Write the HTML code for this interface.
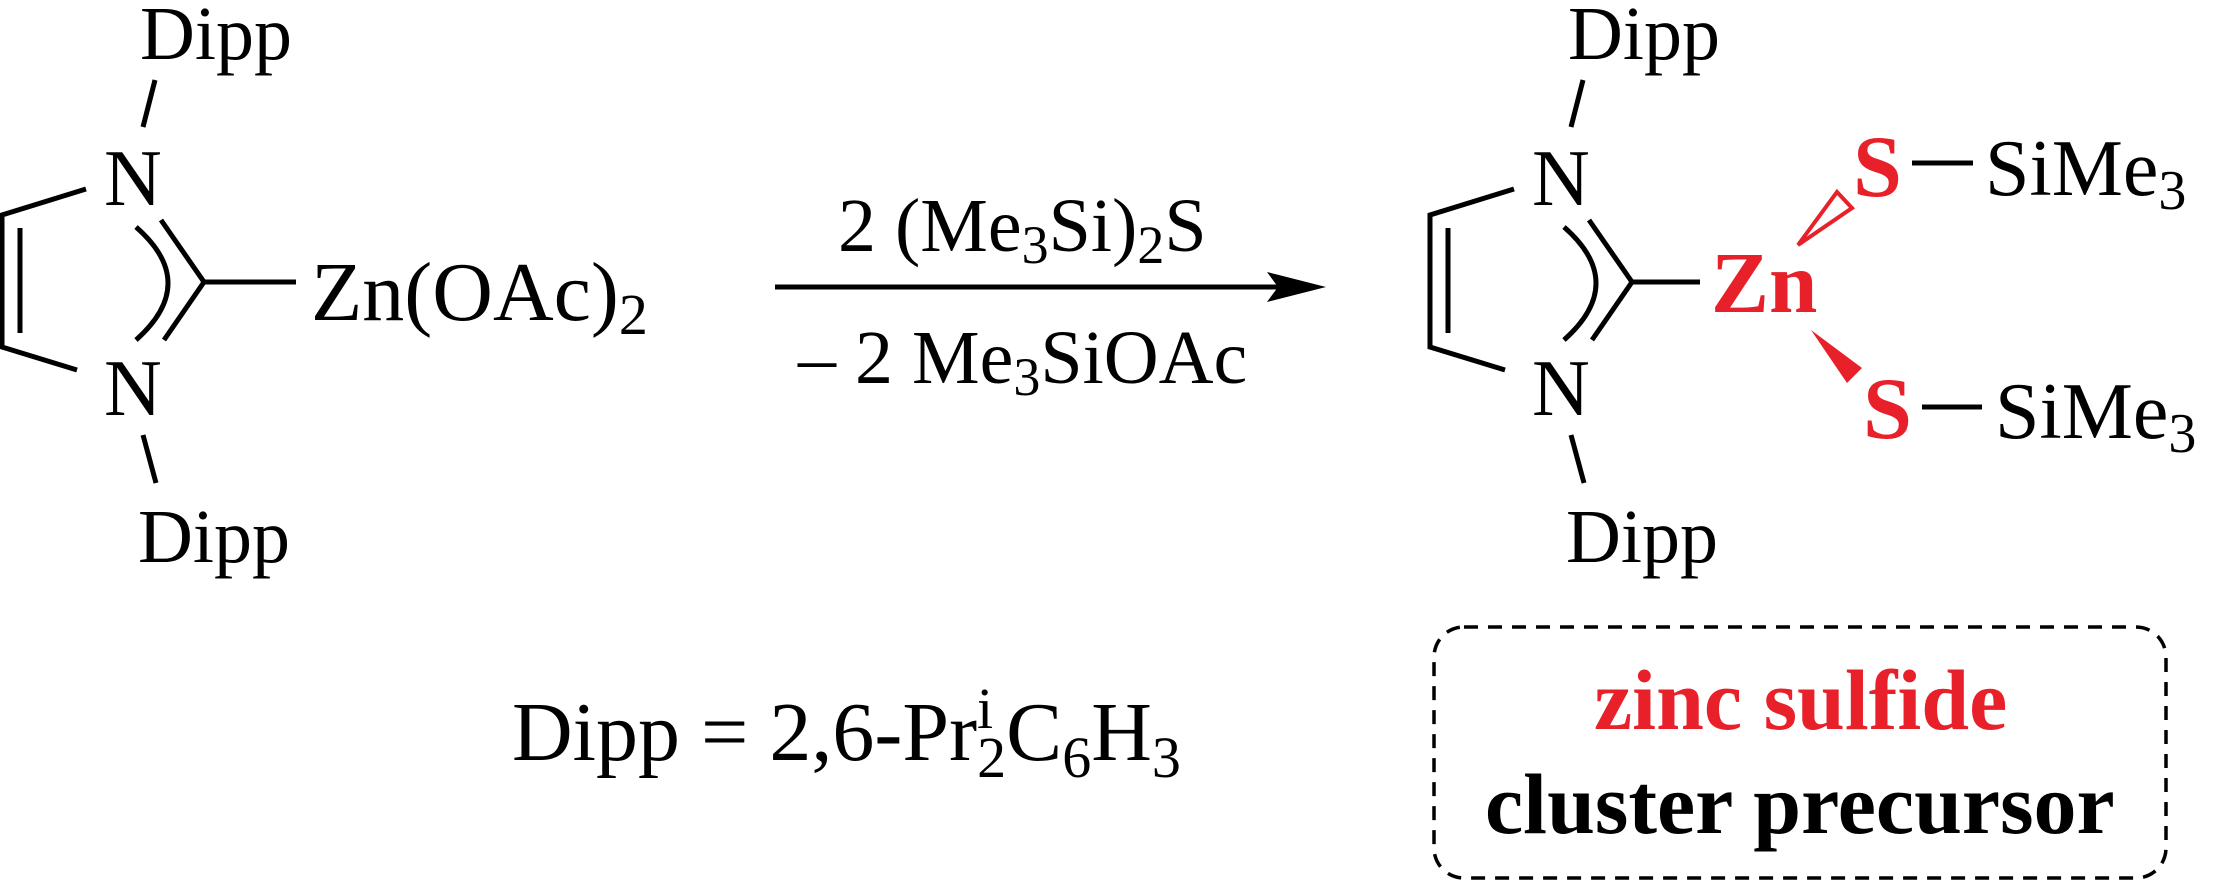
<!DOCTYPE html>
<html><head><meta charset="utf-8"><style>
html,body{margin:0;padding:0;background:#fff;}
svg{display:block;}
text{font-family:"Liberation Serif","Times New Roman",serif;fill:#000;}
</style></head><body>
<svg width="2213" height="886" viewBox="0 0 2213 886" xmlns="http://www.w3.org/2000/svg">
<g stroke="#000" stroke-width="5" fill="none" stroke-linecap="butt">
  <line x1="155" y1="80" x2="143" y2="127"/>
  <polyline points="86,189 2,215 2,347 77,370"/>
  <line x1="20" y1="228" x2="20" y2="333"/>
  <polyline points="161,220 204,282 164,340"/>
  <path d="M136,227 Q200,283 136,340"/>
  <line x1="204" y1="282" x2="296" y2="282"/>
  <line x1="143" y1="435" x2="156" y2="483"/>
  <line x1="775" y1="287" x2="1290" y2="287"/>
  <g transform="translate(1428,0)">
    <line x1="155" y1="80" x2="143" y2="127"/>
    <polyline points="86,189 2,215 2,347 77,370"/>
    <line x1="20" y1="228" x2="20" y2="333"/>
    <polyline points="161,220 204,282 164,340"/>
    <path d="M136,227 Q200,283 136,340"/>
    <line x1="204" y1="282" x2="272" y2="282"/>
    <line x1="143" y1="435" x2="156" y2="483"/>
  </g>
  <line x1="1912" y1="163" x2="1973" y2="163"/>
  <line x1="1922" y1="407" x2="1982" y2="407"/>
</g>
<polygon points="1326,287 1267,272 1278,287 1267,302" fill="#000"/>
<polygon points="1798,245 1837,192 1852,208" fill="none" stroke="#e8202a" stroke-width="4" stroke-linejoin="miter"/>
<polygon points="1811,330 1847,383 1862,368" fill="#e8202a"/>
<rect x="1434" y="627" width="732" height="251" rx="30" ry="30" fill="none" stroke="#000" stroke-width="3.5" stroke-dasharray="14,10"/>

<text x="140" y="59" font-size="76">Dipp</text>
<text x="104" y="205" font-size="80">N</text>
<text x="104" y="415" font-size="80">N</text>
<text x="138" y="562" font-size="76">Dipp</text>
<text x="311" y="320" font-size="84">Zn(OAc)<tspan font-size="58" dy="14">2</tspan></text>

<text x="838" y="251" font-size="76">2 (Me<tspan font-size="54" dy="12">3</tspan><tspan dy="-12">Si)</tspan><tspan font-size="54" dy="12">2</tspan><tspan dy="-12">S</tspan></text>
<text x="798" y="383" font-size="76">– 2 Me<tspan font-size="54" dy="12">3</tspan><tspan dy="-12">SiOAc</tspan></text>

<text x="512" y="760" font-size="84">Dipp = 2,6-Pr<tspan font-size="58" dy="-32">i</tspan><tspan font-size="58" dx="-16" dy="49">2</tspan><tspan dy="-17">C</tspan><tspan font-size="58" dy="17">6</tspan><tspan dy="-17">H</tspan><tspan font-size="58" dy="17">3</tspan></text>

<text x="1568" y="59" font-size="76">Dipp</text>
<text x="1532" y="205" font-size="80">N</text>
<text x="1532" y="415" font-size="80">N</text>
<text x="1566" y="562" font-size="76">Dipp</text>
<text x="1711" y="312" font-size="87" font-weight="bold" style="fill:#e8202a">Zn</text>
<text x="1853" y="196" font-size="88" font-weight="bold" style="fill:#e8202a">S</text>
<text x="1863" y="438" font-size="88" font-weight="bold" style="fill:#e8202a">S</text>
<text x="1985" y="195" font-size="80">SiMe<tspan font-size="56" dy="14">3</tspan></text>
<text x="1995" y="438" font-size="80">SiMe<tspan font-size="56" dy="14">3</tspan></text>

<text x="1594" y="729" font-size="86" font-weight="bold" style="fill:#e8202a">zinc sulfide</text>
<text x="1485" y="833" font-size="86" font-weight="bold">cluster precursor</text>
</svg>
</body></html>
